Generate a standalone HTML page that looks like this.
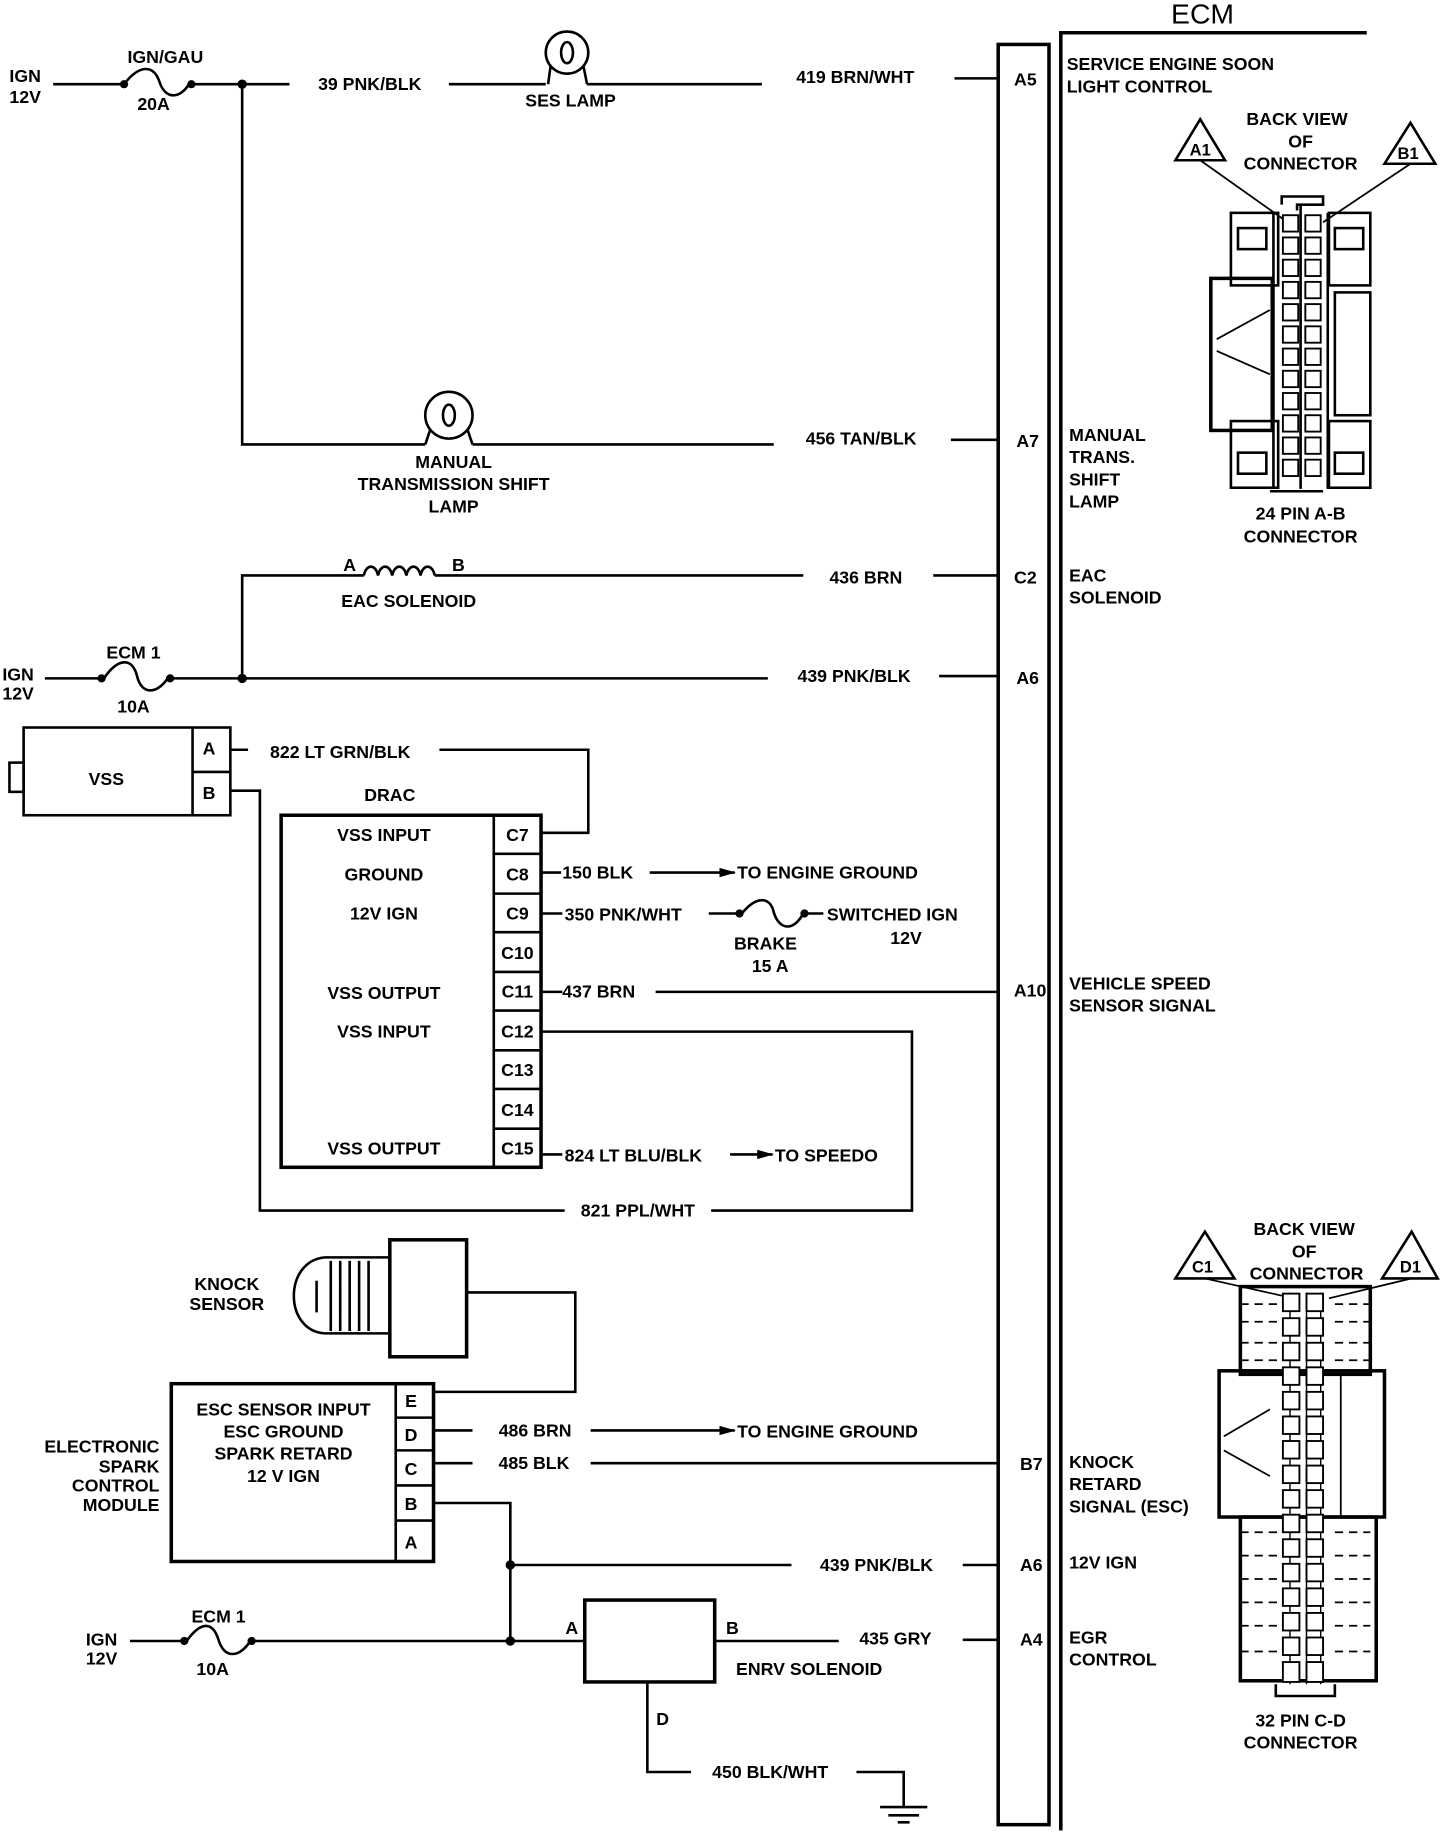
<!DOCTYPE html>
<html><head><meta charset="utf-8"><style>
html,body{margin:0;padding:0;background:#fff;}
svg{display:block;}
text{font-family:"Liberation Sans",sans-serif;font-weight:bold;font-size:15px;fill:#000;}
.m{text-anchor:middle;}
.e{text-anchor:end;}
</style></head><body>
<svg width="1440" height="1834" viewBox="0 0 1219 1568" preserveAspectRatio="none" xmlns="http://www.w3.org/2000/svg">
<defs><marker id="ar" markerUnits="userSpaceOnUse" markerWidth="14" markerHeight="10" refX="13" refY="5" orient="auto"><path d="M0,1 L14,5 L0,9 z" fill="#000"/></marker></defs>
<g stroke="#000" stroke-width="2.2" fill="none">
<rect x="845" y="38" width="43" height="1522" stroke-width="3"/>
<path d="M898,1565 V28 H1157" stroke-width="3"/>
<path d="M45,72 H105"/>
<path d="M105,72 C118,55 130,55 135,70 C140,85 152,85 160,72"/>
<path d="M165,72 H245 M380,72 H462 M497,72 H645 M808,67 H845"/>
<circle cx="480" cy="45" r="18"/><ellipse cx="480" cy="45" rx="5" ry="9"/>
<path d="M466,57 L464,72 M494,57 L497,72"/>
<path d="M205,72 V380 H360 M400,380 H655 M805,376 H845"/>
<circle cx="380" cy="355" r="20"/><ellipse cx="380" cy="355" rx="5" ry="9"/>
<path d="M364,368 L360,380 M396,368 L400,380"/>
<path d="M205,580 V492 H308 M368,492 H680 M790,492 H845"/>
<path d="M308,492 c2,-10 10,-10 12,0 c2,-10 10,-10 12,0 c2,-10 10,-10 12,0 c2,-10 10,-10 12,0 c2,-10 10,-10 12,0"/>
<path d="M38,580 H85 M145,580 H650 M795,578 H845"/>
<path d="M88,580 C100,562 112,562 116,578 C120,594 132,594 142,580"/>
<rect x="20" y="622" width="175" height="75"/>
<path d="M163,622 V697 M163,660 H195"/>
<rect x="8" y="652" width="12" height="25"/>
<path d="M195,641 H210 M372,641 H498 V712 H458"/>
<path d="M195,676 H220 V1035 H478 M602,1035 H772 V882 H458"/>
<rect x="238" y="697" width="220" height="301" stroke-width="3"/>
<path d="M418,697 V998"/>
<path d="M418,730 H458 M418,764 H458 M418,797 H458 M418,831 H458 M418,864 H458 M418,898 H458 M418,931 H458 M418,965 H458"/>
<path d="M458,746 H475"/><path d="M550,746 H622" marker-end="url(#ar)"/>
<path d="M458,781 H476 M600,781 H625 M682,781 H697"/>
<path d="M628,781 C640,766 652,766 655,780 C660,796 672,796 680,781"/>
<path d="M458,848 H476 M555,848 H845 M458,987 H476"/>
<path d="M618,987 H654" marker-end="url(#ar)"/>
<path d="M330,1075 H275 C240,1078 240,1138 275,1140 H330"/>
<path d="M280,1078 V1138 M288,1078 V1138 M296,1078 V1138 M304,1078 V1138 M312,1078 V1138 M268,1095 V1122"/>
<rect x="330" y="1060" width="65" height="100" stroke-width="3"/>
<path d="M395,1105 H487 V1190 H367"/>
<rect x="145" y="1183" width="222" height="152" stroke-width="3"/>
<path d="M335,1183 V1335 M335,1212 H367 M335,1240 H367 M335,1270 H367 M335,1300 H367"/>
<path d="M367,1223 H400"/><path d="M500,1223 H622" marker-end="url(#ar)"/>
<path d="M367,1251 H400 M500,1251 H845"/>
<path d="M367,1285 H432 V1403 M432,1338 H670 M815,1338 H845"/>
<path d="M110,1403 H155 M213,1403 H495"/>
<path d="M158,1403 C170,1386 180,1386 185,1402 C190,1418 202,1418 212,1403"/>
<rect x="495" y="1368" width="110" height="70" stroke-width="3"/>
<path d="M605,1403 H710 M815,1402 H845"/>
<path d="M548,1438 V1515 H585 M725,1515 H765 V1545 M745,1545 H785 M752,1552 H778 M760,1558 H770"/>
<path d="M995,137 L1016,102 L1037,137 Z M1172,140 L1194,105 L1215,140 Z"/>
<path d="M1016,137 L1090,190 M1194,140 L1120,190" stroke-width="1.5"/>
<path d="M1085,175 V168 H1120 V175 H1098 V180" />
<rect x="1042" y="182" width="40" height="62"/><rect x="1125" y="182" width="35" height="62"/>
<rect x="1025" y="238" width="52" height="130" stroke-width="3"/><rect x="1130" y="250" width="30" height="105"/>
<rect x="1042" y="360" width="40" height="57"/><rect x="1125" y="360" width="35" height="57"/>
<rect x="1048" y="195" width="24" height="18"/><rect x="1130" y="195" width="24" height="18"/>
<rect x="1048" y="387" width="24" height="18"/><rect x="1130" y="387" width="24" height="18"/>
<path d="M1030,290 L1075,265 M1030,300 L1075,320" stroke-width="1.5"/>
<path d="M1078,182 V418 M1124,182 V418 M1101,175 V418 M1075,420 H1120" />
<path d="M995,1093 L1020,1053 L1045,1093 Z M1170,1093 L1195,1053 L1217,1093 Z"/>
<path d="M1020,1093 L1095,1110 M1195,1093 L1125,1110" stroke-width="1.5"/>
<rect x="1050" y="1100" width="110" height="75" stroke-width="3"/>
<rect x="1032" y="1172" width="140" height="125" stroke-width="3"/>
<rect x="1050" y="1297" width="115" height="140" stroke-width="3"/>
<path d="M1092,1105 V1440 M1106,1105 V1440 M1118,1105 V1440" stroke-width="1.2"/>
<path d="M1080,1440 V1450 H1130 V1440" />
<path d="M1050,1115 H1085 M1130,1115 H1160 M1050,1130 H1085 M1130,1130 H1160 M1050,1148 H1085 M1130,1148 H1160 M1050,1163 H1085 M1130,1163 H1160 M1050,1310 H1085 M1130,1310 H1160 M1050,1330 H1085 M1130,1330 H1160 M1050,1350 H1085 M1130,1350 H1160 M1050,1370 H1085 M1130,1370 H1160 M1050,1390 H1085 M1130,1390 H1160 M1050,1412 H1085 M1130,1412 H1160" stroke-dasharray="7,5" stroke-width="1.5"/>
<path d="M1036,1228 L1075,1205 M1036,1240 L1075,1262 M1135,1175 V1297" stroke-width="1.5"/>
</g>
<g fill="#fff" stroke="#000" stroke-width="1.6">
<rect x="1086" y="184" width="13" height="14"/><rect x="1105" y="184" width="13" height="14"/>
<rect x="1086" y="203" width="13" height="14"/><rect x="1105" y="203" width="13" height="14"/>
<rect x="1086" y="222" width="13" height="14"/><rect x="1105" y="222" width="13" height="14"/>
<rect x="1086" y="241" width="13" height="14"/><rect x="1105" y="241" width="13" height="14"/>
<rect x="1086" y="260" width="13" height="14"/><rect x="1105" y="260" width="13" height="14"/>
<rect x="1086" y="279" width="13" height="14"/><rect x="1105" y="279" width="13" height="14"/>
<rect x="1086" y="298" width="13" height="14"/><rect x="1105" y="298" width="13" height="14"/>
<rect x="1086" y="317" width="13" height="14"/><rect x="1105" y="317" width="13" height="14"/>
<rect x="1086" y="336" width="13" height="14"/><rect x="1105" y="336" width="13" height="14"/>
<rect x="1086" y="355" width="13" height="14"/><rect x="1105" y="355" width="13" height="14"/>
<rect x="1086" y="374" width="13" height="14"/><rect x="1105" y="374" width="13" height="14"/>
<rect x="1086" y="393" width="13" height="14"/><rect x="1105" y="393" width="13" height="14"/>
<rect x="1086" y="1106" width="14" height="15"/><rect x="1106" y="1106" width="14" height="15"/>
<rect x="1086" y="1127" width="14" height="15"/><rect x="1106" y="1127" width="14" height="15"/>
<rect x="1086" y="1148" width="14" height="15"/><rect x="1106" y="1148" width="14" height="15"/>
<rect x="1086" y="1169" width="14" height="15"/><rect x="1106" y="1169" width="14" height="15"/>
<rect x="1086" y="1190" width="14" height="15"/><rect x="1106" y="1190" width="14" height="15"/>
<rect x="1086" y="1211" width="14" height="15"/><rect x="1106" y="1211" width="14" height="15"/>
<rect x="1086" y="1232" width="14" height="15"/><rect x="1106" y="1232" width="14" height="15"/>
<rect x="1086" y="1253" width="14" height="15"/><rect x="1106" y="1253" width="14" height="15"/>
<rect x="1086" y="1274" width="14" height="15"/><rect x="1106" y="1274" width="14" height="15"/>
<rect x="1086" y="1295" width="14" height="15"/><rect x="1106" y="1295" width="14" height="15"/>
<rect x="1086" y="1316" width="14" height="15"/><rect x="1106" y="1316" width="14" height="15"/>
<rect x="1086" y="1337" width="14" height="15"/><rect x="1106" y="1337" width="14" height="15"/>
<rect x="1086" y="1358" width="14" height="15"/><rect x="1106" y="1358" width="14" height="15"/>
<rect x="1086" y="1379" width="14" height="15"/><rect x="1106" y="1379" width="14" height="15"/>
<rect x="1086" y="1400" width="14" height="15"/><rect x="1106" y="1400" width="14" height="15"/>
<rect x="1086" y="1421" width="14" height="17"/><rect x="1106" y="1421" width="14" height="17"/>
</g>
<g fill="#000">
<circle cx="205" cy="72" r="4"/><circle cx="205" cy="580" r="4"/>
<circle cx="432" cy="1338" r="4"/><circle cx="432" cy="1403" r="4"/>
<circle cx="105" cy="72" r="3.5"/><circle cx="162" cy="72" r="3.5"/>
<circle cx="86" cy="580" r="3.5"/><circle cx="144" cy="580" r="3.5"/>
<circle cx="156" cy="1403" r="3.5"/><circle cx="213" cy="1403" r="3.5"/>
<circle cx="626" cy="781" r="3.5"/><circle cx="681" cy="781" r="3.5"/>
</g>
<text x="1018" y="20" class="m" style="font-size:24px;font-weight:normal">ECM</text>
<text x="8" y="70">IGN</text><text x="8" y="88">12V</text>
<text x="140" y="54" class="m">IGN/GAU</text><text x="130" y="94" class="m">20A</text>
<text x="313" y="77" class="m">39 PNK/BLK</text>
<text x="483" y="91" class="m">SES LAMP</text>
<text x="724" y="71" class="m">419 BRN/WHT</text>
<text x="868" y="73" class="m">A5</text>
<text x="903" y="60">SERVICE ENGINE SOON</text><text x="903" y="79">LIGHT CONTROL</text>
<text x="384" y="400" class="m">MANUAL</text><text x="384" y="419" class="m">TRANSMISSION SHIFT</text><text x="384" y="438" class="m">LAMP</text>
<text x="729" y="380" class="m">456 TAN/BLK</text>
<text x="870" y="382" class="m">A7</text>
<text x="905" y="377">MANUAL</text><text x="905" y="396">TRANS.</text><text x="905" y="415">SHIFT</text><text x="905" y="434">LAMP</text>
<text x="296" y="488" class="m">A</text><text x="388" y="488" class="m">B</text>
<text x="346" y="519" class="m">EAC SOLENOID</text>
<text x="733" y="499" class="m">436 BRN</text>
<text x="868" y="499" class="m">C2</text>
<text x="905" y="497">EAC</text><text x="905" y="516">SOLENOID</text>
<text x="2" y="582">IGN</text><text x="2" y="598">12V</text>
<text x="113" y="563" class="m">ECM 1</text><text x="113" y="609" class="m">10A</text>
<text x="723" y="583" class="m">439 PNK/BLK</text>
<text x="870" y="585" class="m">A6</text>
<text x="90" y="671" class="m">VSS</text>
<text x="177" y="645" class="m">A</text><text x="177" y="683" class="m">B</text>
<text x="288" y="648" class="m">822 LT GRN/BLK</text>
<text x="330" y="685" class="m">DRAC</text>
<text x="325" y="719" class="m">VSS INPUT</text>
<text x="325" y="753" class="m">GROUND</text>
<text x="325" y="786" class="m">12V IGN</text>
<text x="325" y="854" class="m">VSS OUTPUT</text>
<text x="325" y="887" class="m">VSS INPUT</text>
<text x="325" y="987" class="m">VSS OUTPUT</text>
<g style="font-size:14px">
<text x="438" y="719" class="m">C7</text><text x="438" y="753" class="m">C8</text><text x="438" y="786" class="m">C9</text><text x="438" y="820" class="m">C10</text><text x="438" y="853" class="m">C11</text><text x="438" y="887" class="m">C12</text><text x="438" y="920" class="m">C13</text><text x="438" y="954" class="m">C14</text><text x="438" y="987" class="m">C15</text>
</g>
<text x="476" y="751">150 BLK</text><text x="624" y="751">TO ENGINE GROUND</text>
<text x="478" y="787">350 PNK/WHT</text><text x="700" y="787">SWITCHED IGN</text><text x="767" y="807" class="m">12V</text>
<text x="648" y="812" class="m">BRAKE</text><text x="652" y="831" class="m">15 A</text>
<text x="476" y="853">437 BRN</text>
<text x="872" y="852" class="m">A10</text>
<text x="905" y="846">VEHICLE SPEED</text><text x="905" y="865">SENSOR SIGNAL</text>
<text x="478" y="993">824 LT BLU/BLK</text><text x="656" y="993">TO SPEEDO</text>
<text x="540" y="1040" class="m">821 PPL/WHT</text>
<text x="192" y="1103" class="m">KNOCK</text><text x="192" y="1120" class="m">SENSOR</text>
<text x="240" y="1210" class="m">ESC SENSOR INPUT</text><text x="240" y="1229" class="m">ESC GROUND</text><text x="240" y="1248" class="m">SPARK RETARD</text><text x="240" y="1267" class="m">12 V IGN</text>
<text x="135" y="1242" class="e">ELECTRONIC</text><text x="135" y="1259" class="e">SPARK</text><text x="135" y="1275" class="e">CONTROL</text><text x="135" y="1292" class="e">MODULE</text>
<text x="348" y="1203" class="m">E</text><text x="348" y="1232" class="m">D</text><text x="348" y="1261" class="m">C</text><text x="348" y="1291" class="m">B</text><text x="348" y="1324" class="m">A</text>
<text x="453" y="1228" class="m">486 BRN</text><text x="624" y="1229">TO ENGINE GROUND</text>
<text x="452" y="1256" class="m">485 BLK</text>
<text x="873" y="1257" class="m">B7</text>
<text x="905" y="1255">KNOCK</text><text x="905" y="1274">RETARD</text><text x="905" y="1293">SIGNAL (ESC)</text>
<text x="742" y="1343" class="m">439 PNK/BLK</text>
<text x="873" y="1343" class="m">A6</text><text x="905" y="1341">12V IGN</text>
<text x="86" y="1407" class="m">IGN</text><text x="86" y="1423" class="m">12V</text>
<text x="185" y="1387" class="m">ECM 1</text><text x="180" y="1432" class="m">10A</text>
<text x="484" y="1397" class="m">A</text><text x="620" y="1397" class="m">B</text>
<text x="758" y="1406" class="m">435 GRY</text>
<text x="873" y="1407" class="m">A4</text><text x="905" y="1405">EGR</text><text x="905" y="1424">CONTROL</text>
<text x="685" y="1432" class="m">ENRV SOLENOID</text>
<text x="561" y="1475" class="m">D</text>
<text x="652" y="1520" class="m">450 BLK/WHT</text>
<text x="1098" y="107" class="m">BACK VIEW</text><text x="1101" y="126" class="m">OF</text><text x="1101" y="145" class="m">CONNECTOR</text>
<text x="1016" y="133" class="m" style="font-size:14px">A1</text><text x="1192" y="136" class="m" style="font-size:14px">B1</text>
<text x="1101" y="444" class="m">24 PIN  A-B</text><text x="1101" y="464" class="m">CONNECTOR</text>
<text x="1104" y="1056" class="m">BACK VIEW</text><text x="1104" y="1075" class="m">OF</text><text x="1106" y="1094" class="m">CONNECTOR</text>
<text x="1018" y="1088" class="m" style="font-size:14px">C1</text><text x="1194" y="1088" class="m" style="font-size:14px">D1</text>
<text x="1101" y="1476" class="m">32  PIN C-D</text><text x="1101" y="1495" class="m">CONNECTOR</text>
</svg>
</body></html>
